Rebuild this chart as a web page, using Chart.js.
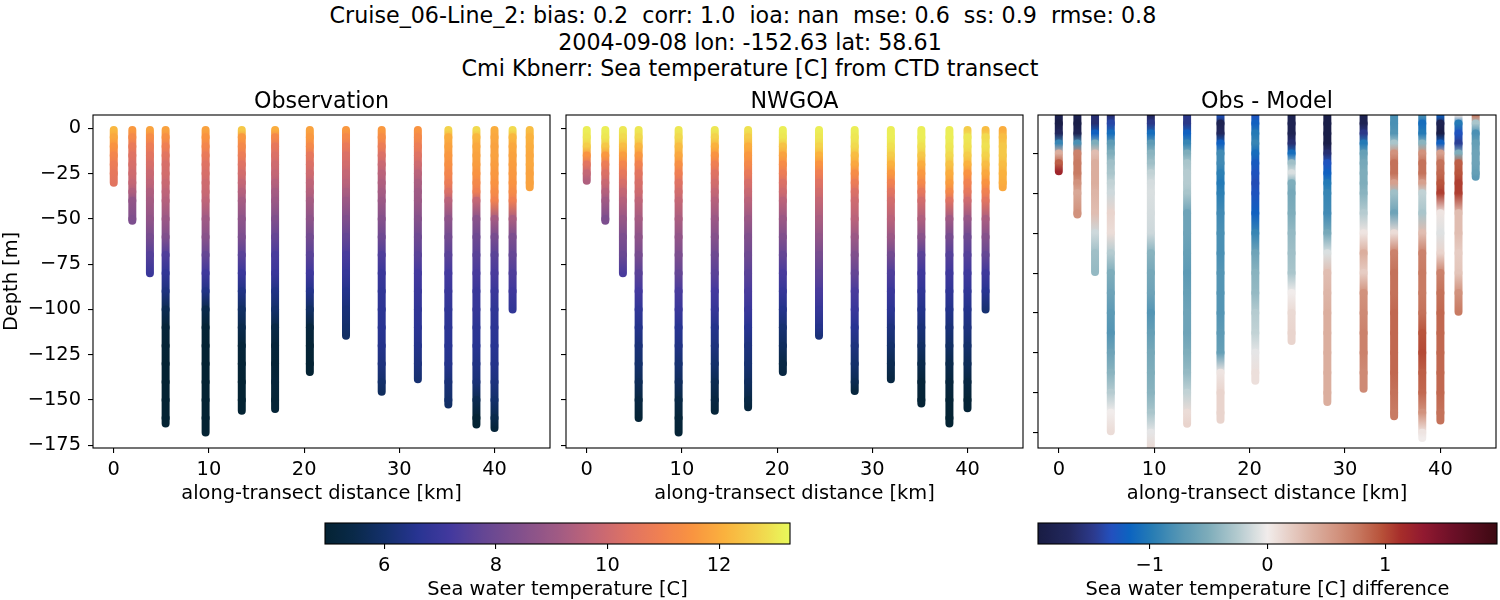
<!DOCTYPE html>
<html>
<head>
<meta charset="utf-8">
<script src="https://cdn.jsdelivr.net/npm/chart.js@4.4.0/dist/chart.umd.min.js"></script>
<style>
html,body{margin:0;padding:0;background:#fff;}
#fig{position:relative;width:1500px;height:600px;overflow:hidden;font-family:"DejaVu Sans",sans-serif;background:#fff;}
canvas{position:absolute;}
#sup{position:absolute;left:0;top:2px;width:1500px;text-align:center;font-size:22.2px;line-height:26.5px;color:#000;white-space:pre;}
</style>
</head>
<body>
<div id="fig">
<div id="sup">Cruise_06-Line_2: bias: 0.2  corr: 1.0  ioa: nan  mse: 0.6  ss: 0.9  rmse: 0.8  
2004-09-08 lon: -152.63 lat: 58.61
Cmi Kbnerr: Sea temperature [C] from CTD transect</div>
<canvas id="p1" width="560" height="430" style="left:0px;top:80px"></canvas>
<canvas id="p2" width="475" height="430" style="left:555px;top:80px"></canvas>
<canvas id="p3" width="472" height="430" style="left:1028px;top:80px"></canvas>
<canvas id="cb1" width="520" height="88" style="left:300px;top:515px"></canvas>
<canvas id="cb2" width="490" height="88" style="left:1010px;top:515px"></canvas>
</div>
<script>
// ---------------- DATA ----------------
const castKm = [0, 1.95, 3.8, 5.45, 9.65, 13.45, 16.95, 20.6, 24.4, 28.15, 31.95, 35.15, 38.1, 40.0, 41.9, 43.7];
const depthGrid = [1, 5, 10, 15, 20, 25, 30, 35, 40, 50, 60, 70, 80, 90, 100, 110, 120, 130, 140, 150, 160];
const obsBottom   = [30, 51, 80, 163, 168, 156, 155, 134.5, 114.5, 145.5, 138.5, 152.5, 163.5, 165.5, 100, 32.5];
const modelBottom = [29, 51, 80, 160, 168, 156, 154, 134.5, 114.5, 145, 138.5, 152, 163, 154.5, 100, 32.5];
const diffBottom  = [29, 50.6, 79.4, 159.3, 168, 155.6, 153.5, 134, 114, 144.7, 138, 151.8, 162.7, 153.9, 99.4, 31.7];

const obsTemp = [
  [12.2, 11.9, 11.5, 11.1, 10.8, 10.6, 10.5],
  [11.6, 11.2, 10.7, 10.4, 10.2, 10.0, 9.8, 9.4, 8.8, 8.4, 8.3],
  [11.8, 11.3, 10.8, 10.5, 10.2, 9.9, 9.7, 9.4, 9.2, 8.8, 8.2, 7.5, 7.0],
  [11.8, 11.4, 10.9, 10.5, 10.2, 10.1, 9.9, 9.7, 9.5, 9.0, 8.4, 7.4, 6.8, 6.3, 5.6, 5.1, 5.0, 4.95, 4.95, 4.95, 4.95, 4.95],
  [11.8, 11.5, 11.1, 10.7, 10.4, 10.2, 10.0, 9.9, 9.7, 9.1, 8.6, 7.8, 7.1, 6.4, 5.5, 5.0, 4.95, 4.95, 4.95, 4.95, 4.95, 4.95],
  [12.5, 11.6, 11.2, 10.8, 10.4, 10.1, 9.8, 9.5, 9.2, 8.7, 8.3, 7.6, 7.0, 6.4, 5.9, 5.5, 5.1, 5.0, 4.95, 4.95, 4.95],
  [12.0, 11.2, 10.6, 10.3, 10.0, 9.8, 9.5, 9.2, 9.0, 8.4, 7.8, 7.3, 7.0, 6.4, 6.0, 5.4, 5.1, 5.0, 5.1, 5.0, 5.0],
  [11.8, 11.6, 11.2, 10.6, 10.3, 10.0, 9.7, 9.5, 9.2, 8.7, 8.1, 7.6, 7.1, 6.5, 5.9, 5.2, 5.0, 4.95, 4.95],
  [11.6, 11.2, 10.7, 10.3, 10.1, 9.8, 9.6, 9.3, 9.0, 8.4, 7.8, 7.3, 6.9, 6.5, 6.2, 6.0, 5.9],
  [11.6, 11.3, 10.8, 10.3, 9.9, 9.6, 9.4, 9.2, 9.0, 8.5, 8.0, 7.4, 7.0, 6.8, 6.7, 6.6, 6.5, 6.3, 6.0, 5.8],
  [11.5, 11.2, 10.8, 10.4, 10.0, 9.6, 9.3, 9.1, 9.0, 8.5, 8.0, 7.6, 7.2, 7.0, 6.8, 6.7, 6.5, 6.3, 6.1],
  [12.7, 12.0, 11.8, 11.6, 11.4, 11.1, 10.8, 10.3, 9.6, 8.7, 8.1, 7.6, 7.2, 7.0, 6.8, 6.7, 6.6, 6.5, 6.2, 6.0, 5.9],
  [12.8, 12.2, 11.9, 11.8, 11.7, 11.5, 11.2, 10.9, 9.8, 8.6, 8.0, 7.6, 7.3, 7.0, 6.9, 6.7, 6.6, 6.4, 6.2, 5.6, 5.0, 4.95],
  [12.0, 11.9, 11.8, 11.8, 11.7, 11.6, 11.5, 11.3, 11.0, 9.2, 8.2, 7.6, 7.3, 7.0, 6.8, 6.7, 6.6, 6.5, 6.3, 6.0, 5.5, 5.1],
  [12.8, 12.2, 11.9, 11.8, 11.7, 11.6, 11.5, 11.3, 10.9, 9.3, 8.3, 7.8, 7.4, 7.1, 6.8],
  [12.3, 12.1, 12.0, 11.9, 11.9, 11.8, 11.8, 11.8]
];

const modelTemp = [
  [13.1, 13.0, 12.6, 11.5, 10.5, 9.8, 9.4],
  [13.1, 13.0, 12.5, 11.6, 10.8, 10.3, 9.9, 9.5, 9.1, 8.3, 8.3],
  [13.0, 12.8, 12.3, 11.7, 11.1, 10.6, 10.2, 9.8, 9.5, 8.9, 8.3, 7.9, 7.3],
  [13.0, 12.8, 12.2, 11.6, 11.0, 10.5, 10.2, 10.0, 9.7, 9.2, 8.7, 8.2, 7.6, 7.2, 6.8, 6.5, 6.2, 6.0, 5.7, 5.3, 5.0],
  [13.0, 12.8, 12.3, 11.9, 11.4, 10.9, 10.4, 10.1, 9.8, 9.3, 8.8, 8.3, 7.8, 7.3, 7.0, 6.6, 6.4, 6.1, 5.8, 5.4, 5.1, 5.0],
  [13.0, 12.7, 12.1, 11.5, 10.9, 10.4, 10.1, 9.8, 9.5, 9.0, 8.5, 8.0, 7.6, 7.2, 6.9, 6.5, 6.3, 6.0, 5.6, 5.3, 5.1],
  [12.9, 12.6, 12.0, 11.6, 11.2, 10.7, 10.2, 9.9, 9.6, 9.0, 8.4, 8.0, 7.6, 7.3, 7.0, 6.6, 6.3, 6.1, 5.8, 5.4, 5.2],
  [13.1, 13.0, 12.4, 11.8, 11.3, 10.8, 10.3, 10.0, 9.6, 9.0, 8.4, 7.8, 7.3, 6.9, 6.5, 6.1, 5.8, 5.4, 5.3],
  [13.1, 13.0, 12.7, 12.1, 11.5, 10.9, 10.4, 10.1, 9.8, 9.3, 8.8, 8.2, 7.7, 7.3, 6.9, 6.5, 6.2],
  [13.1, 13.0, 12.8, 12.3, 11.9, 11.3, 10.8, 10.3, 10.0, 9.6, 9.0, 8.4, 7.8, 7.3, 7.0, 6.6, 6.3, 6.0, 5.6, 5.2],
  [13.1, 13.1, 12.9, 12.6, 12.1, 11.6, 11.0, 10.5, 10.1, 9.6, 9.0, 8.1, 7.4, 7.0, 6.7, 6.3, 6.0, 5.6, 5.3],
  [13.1, 13.1, 12.9, 12.5, 12.0, 11.6, 11.2, 10.6, 10.1, 9.4, 8.6, 7.6, 7.1, 6.8, 6.5, 6.2, 5.9, 5.5, 5.1, 5.0, 5.0],
  [13.1, 13.1, 13.0, 12.8, 12.4, 12.0, 11.7, 11.2, 10.4, 9.1, 8.2, 7.5, 7.1, 6.8, 6.5, 6.2, 5.9, 5.5, 5.2, 5.0, 4.95, 4.95],
  [12.6, 13.0, 12.9, 12.6, 12.1, 11.5, 11.0, 10.6, 10.0, 8.9, 8.0, 7.5, 7.1, 6.8, 6.5, 6.3, 6.0, 5.7, 5.3, 5.0, 5.0],
  [12.3, 12.8, 12.9, 12.7, 12.3, 11.9, 11.5, 11.0, 10.5, 9.3, 8.5, 7.8, 7.1, 6.6, 6.1],
  [12.0, 12.3, 12.5, 12.5, 12.3, 12.1, 12.0, 11.9]
];

const obsMinusModel = [
  [-1.8, -1.9, -1.7, -0.9, 0.4, 0.9, 1.2],
  [-1.8, -1.9, -1.8, -0.8, 0.7, 0.75, 0.75, 0.6, 0.45, 0.6, 0.6],
  [-1.6, -1.6, -1.2, -0.5, 0.3, 0.4, 0.4, 0.4, 0.35, 0.3, -0.15, -0.35, -0.4],
  [-1.6, -1.4, -1.1, -0.7, -0.5, -0.35, -0.3, -0.2, -0.15, 0.15, 0.1, -0.25, -0.5, -0.6, -0.7, -0.75, -0.6, -0.45, -0.25, 0.0, 0.1],
  [-1.7, -1.5, -1.1, -0.7, -0.45, -0.35, -0.2, -0.12, -0.1, -0.12, -0.15, -0.45, -0.55, -0.6, -0.75, -0.65, -0.55, -0.5, -0.45, -0.3, -0.05, 0.12],
  [-1.5, -1.5, -1.2, -0.9, -0.5, -0.3, -0.25, -0.25, -0.3, -0.6, -0.6, -0.65, -0.7, -0.65, -0.6, -0.6, -0.5, -0.4, -0.2, 0.1, 0.15],
  [-1.3, -1.8, -1.7, -1.2, -0.85, -0.85, -0.95, -1.0, -0.95, -0.85, -0.8, -0.8, -0.75, -0.75, -0.75, -0.7, -0.65, 0.05, 0.15, 0.15, 0.15],
  [-1.3, -1.2, -1.0, -0.9, -1.1, -1.25, -1.3, -1.35, -1.3, -1.2, -0.9, -0.6, -0.45, -0.4, -0.25, -0.2, -0.05, 0.08, 0.08],
  [-1.8, -1.8, -1.8, -1.6, -1.1, -0.35, -0.1, -0.5, -0.55, -0.5, -0.4, -0.35, -0.3, 0.0, 0.12, 0.15, 0.15],
  [-1.9, -1.9, -1.9, -1.9, -1.6, -1.3, -1.2, -1.0, -0.9, -0.85, -0.55, -0.1, 0.3, 0.35, 0.4, 0.4, 0.4, 0.4, 0.4, 0.4],
  [-1.8, -1.8, -1.5, -1.0, -0.65, -0.55, -0.5, -0.5, -0.45, -0.25, 0.05, 0.4, 0.2, 0.6, 0.65, 0.7, 0.7, 0.65, 0.65],
  [-0.8, -0.8, -0.75, -0.3, 0.6, 0.8, 0.8, 0.5, -0.35, -0.6, 0.1, 0.7, 0.8, 0.8, 0.85, 0.85, 0.85, 0.85, 0.8, 0.75, 0.75],
  [-0.8, -1.1, -1.0, -0.45, 0.6, 0.8, 0.8, 0.5, -0.2, -0.3, 0.3, 0.7, 0.75, 0.75, 0.8, 0.95, 1.0, 0.9, 0.85, 0.6, 0.05, 0.0],
  [-1.2, -1.8, -1.9, -1.2, 0.5, 0.8, 0.85, 0.95, 1.05, 0.05, -0.08, 0.15, 0.7, 0.8, 0.85, 0.85, 0.85, 0.85, 0.85, 0.8, 0.8],
  [0.05, -1.0, -1.3, -1.45, -0.5, 0.9, 0.95, 1.05, 1.05, 0.3, 0.3, 0.2, 0.25, 0.6, 0.75],
  [0.75, -0.3, -0.8, -0.65, -0.6, -0.6, -0.65, -0.7]
];

const xTicks = [0, 10, 20, 30, 40];
const yTicksMain = [0, -25, -50, -75, -100, -125, -150, -175];
const yTicksDiff = [-20, -40, -60, -80, -100, -120, -140, -160];
const tempTicks = [6, 8, 10, 12];
const diffTicks = [-1, 0, 1];
const tempRange = [4.94, 13.27];
const diffRange = [-1.95, 1.95];

// ---------------- STYLE ----------------
const thermalStops = [
  [0.00, 4, 35, 51], [0.06, 9, 41, 72], [0.13, 20, 48, 108], [0.20, 40, 52, 146],
  [0.27, 67, 57, 158], [0.34, 100, 70, 148], [0.42, 130, 80, 140], [0.50, 160, 90, 132],
  [0.58, 195, 102, 118], [0.65, 222, 114, 100], [0.72, 240, 128, 82], [0.79, 249, 148, 64],
  [0.86, 250, 178, 62], [0.93, 243, 210, 76], [1.00, 232, 250, 91]
];
const balanceStops = [
  [0.00, 24, 28, 67], [0.07, 35, 40, 95], [0.12, 44, 58, 140], [0.16, 35, 80, 190],
  [0.20, 12, 100, 192], [0.25, 40, 125, 180], [0.31, 86, 150, 180], [0.37, 125, 172, 186],
  [0.43, 175, 200, 205], [0.50, 241, 236, 235], [0.55, 230, 205, 196], [0.60, 219, 175, 160],
  [0.65, 210, 148, 128], [0.70, 198, 118, 94], [0.75, 183, 80, 56], [0.79, 166, 45, 42],
  [0.84, 145, 25, 48], [0.90, 110, 16, 40], [1.00, 60, 9, 18]
];

function makeCmap(stops, vmin, vmax) {
  return function (v) {
    let t = (v - vmin) / (vmax - vmin);
    t = Math.max(0, Math.min(1, t));
    for (let i = 1; i < stops.length; i++) {
      if (t <= stops[i][0]) {
        const a = stops[i - 1], b = stops[i];
        const f = (t - a[0]) / ((b[0] - a[0]) || 1);
        const r = Math.round(a[1] + (b[1] - a[1]) * f);
        const g = Math.round(a[2] + (b[2] - a[2]) * f);
        const bl = Math.round(a[3] + (b[3] - a[3]) * f);
        return 'rgb(' + r + ',' + g + ',' + bl + ')';
      }
    }
    const s = stops[stops.length - 1];
    return 'rgb(' + s[1] + ',' + s[2] + ',' + s[3] + ')';
  };
}
const thermal = makeCmap(thermalStops, tempRange[0], tempRange[1]);
const balance = makeCmap(balanceStops, diffRange[0], diffRange[1]);

Chart.defaults.font.family = '"DejaVu Sans", sans-serif';
Chart.defaults.font.size = 19.4;
Chart.defaults.color = '#000';

const FONT_T = {family: '"DejaVu Sans", sans-serif', size: 19.4};
const FONT_TITLE = {family: '"DejaVu Sans", sans-serif', size: 22.2, weight: 'normal', lineHeight: 1.0};

function fmt(v) {
  return v < 0 ? '\u2212' + Math.abs(v) : String(v);
}

const framePlugin = {
  id: 'frame',
  afterDatasetsDraw(chart) {
    const a = chart.chartArea, c = chart.ctx;
    c.save();
    c.strokeStyle = '#000';
    c.lineWidth = 1.1;
    c.strokeRect(a.left, a.top, a.right - a.left, a.bottom - a.top);
    c.restore();
  }
};

function castDepths(bottom) {
  const d = depthGrid.filter(v => v < bottom);
  d.push(bottom);
  return d;
}

function makeDatasets(values, bottoms, cmap) {
  return castKm.map((km, i) => {
    const depths = castDepths(bottoms[i]);
    const vals = values[i];
    if (vals.length !== depths.length) console.warn('length mismatch', i, vals.length, depths.length);
    return {
      data: depths.map((d, j) => ({x: km, y: -d})),
      borderWidth: 8,
      borderCapStyle: 'round',
      borderJoinStyle: 'round',
      borderColor: cmap(vals[0]),
      pointRadius: 0,
      pointHoverRadius: 0,
      fill: false,
      tension: 0,
      clip: 0,
      segment: {
        borderColor: (ctx) => {
          const c = ctx.chart.ctx;
          const g = c.createLinearGradient(ctx.p0.x, ctx.p0.y, ctx.p1.x, ctx.p1.y + 0.001);
          g.addColorStop(0, cmap(vals[ctx.p0DataIndex]));
          g.addColorStop(1, cmap(vals[ctx.p1DataIndex]));
          return g;
        }
      }
    };
  });
}

function panel(id, title, datasets, opts) {
  return new Chart(document.getElementById(id), {
    type: 'line',
    data: {datasets: datasets},
    plugins: [framePlugin],
    options: {
      responsive: false,
      animation: false,
      events: [],
      layout: {padding: {left: 0, right: opts.padRight, top: 0, bottom: 0}},
      plugins: {
        legend: {display: false},
        tooltip: {enabled: false},
        title: {display: true, fullSize: false, text: title, font: FONT_TITLE, color: '#000', padding: {top: 11, bottom: 1.8}}
      },
      scales: {
        x: {
          type: 'linear', min: -2.18, max: 45.83,
          afterBuildTicks: (s) => { s.ticks = xTicks.map(v => ({value: v})); },
          afterFit: (s) => { s.height = 62; },
          ticks: {font: FONT_T, color: '#000', padding: 5.3, maxRotation: 0, callback: (v) => fmt(v)},
          grid: {display: true, drawOnChartArea: false, drawTicks: true, tickLength: 5, tickColor: '#000', lineWidth: 1.1},
          border: {display: false},
          title: {display: true, text: 'along-transect distance [km]', font: FONT_T, color: '#000', padding: {top: 0, bottom: 4.3}}
        },
        y: {
          type: 'linear', min: opts.yMin, max: opts.yMax,
          afterBuildTicks: (s) => { s.ticks = opts.yTicks.map(v => ({value: v})); },
          afterFit: (s) => { s.width = opts.yWidth; },
          ticks: {display: opts.yLabels, font: FONT_T, color: '#000', padding: 7, callback: (v) => fmt(v)},
          grid: {display: true, drawOnChartArea: false, drawTicks: true, tickLength: 5, tickColor: '#000', lineWidth: 1.1},
          border: {display: false},
          title: {display: opts.yLabels, text: 'Depth [m]', font: FONT_T, color: '#000', padding: {top: 0, bottom: 0}}
        }
      }
    }
  });
}

panel('p1', 'Observation', makeDatasets(obsTemp, obsBottom, thermal),
  {padRight: 10, yWidth: 93, yMin: -176.5, yMax: 7.35, yTicks: yTicksMain, yLabels: true});
panel('p2', 'NWGOA', makeDatasets(modelTemp, modelBottom, thermal),
  {padRight: 7, yWidth: 11, yMin: -176.5, yMax: 7.35, yTicks: yTicksMain, yLabels: false});
panel('p3', 'Obs - Model', makeDatasets(obsMinusModel, diffBottom, balance),
  {padRight: 4, yWidth: 10, yMin: -167.7, yMax: -0.75, yTicks: yTicksDiff, yLabels: false});

function colorbar(id, range, ticks, cmap, label, padL, padR) {
  return new Chart(document.getElementById(id), {
    type: 'bar',
    data: {
      labels: ['cb'],
      datasets: [{
        data: [[range[0], range[1]]],
        barPercentage: 1, categoryPercentage: 1, borderWidth: 0, borderSkipped: false,
        backgroundColor: (c) => {
          const a = c.chart.chartArea;
          if (!a) return '#888';
          const g = c.chart.ctx.createLinearGradient(a.left, 0, a.right, 0);
          for (let i = 0; i <= 100; i++) {
            g.addColorStop(i / 100, cmap(range[0] + (range[1] - range[0]) * i / 100));
          }
          return g;
        }
      }]
    },
    plugins: [framePlugin],
    options: {
      indexAxis: 'y',
      responsive: false,
      animation: false,
      events: [],
      layout: {padding: {left: padL, right: padR, top: 8, bottom: 0}},
      plugins: {legend: {display: false}, tooltip: {enabled: false}, title: {display: false}},
      scales: {
        x: {
          type: 'linear', min: range[0], max: range[1],
          afterBuildTicks: (s) => { s.ticks = ticks.map(v => ({value: v})); },
          afterFit: (s) => { s.height = 59; },
          ticks: {font: FONT_T, color: '#000', padding: 5.3, maxRotation: 0, callback: (v) => fmt(v)},
          grid: {display: true, drawOnChartArea: false, drawTicks: true, tickLength: 5, tickColor: '#000', lineWidth: 1.1},
          border: {display: false},
          title: {display: true, text: label, font: FONT_T, color: '#000', padding: {top: 0, bottom: 1.4}}
        },
        y: {display: false, afterFit: (s) => { s.width = 0; }}
      }
    }
  });
}

colorbar('cb1', tempRange, tempTicks, thermal, 'Sea water temperature [C]', 25, 30);
colorbar('cb2', diffRange, diffTicks, balance, 'Sea water temperature [C] difference', 28, 3);
</script>
</body>
</html>
